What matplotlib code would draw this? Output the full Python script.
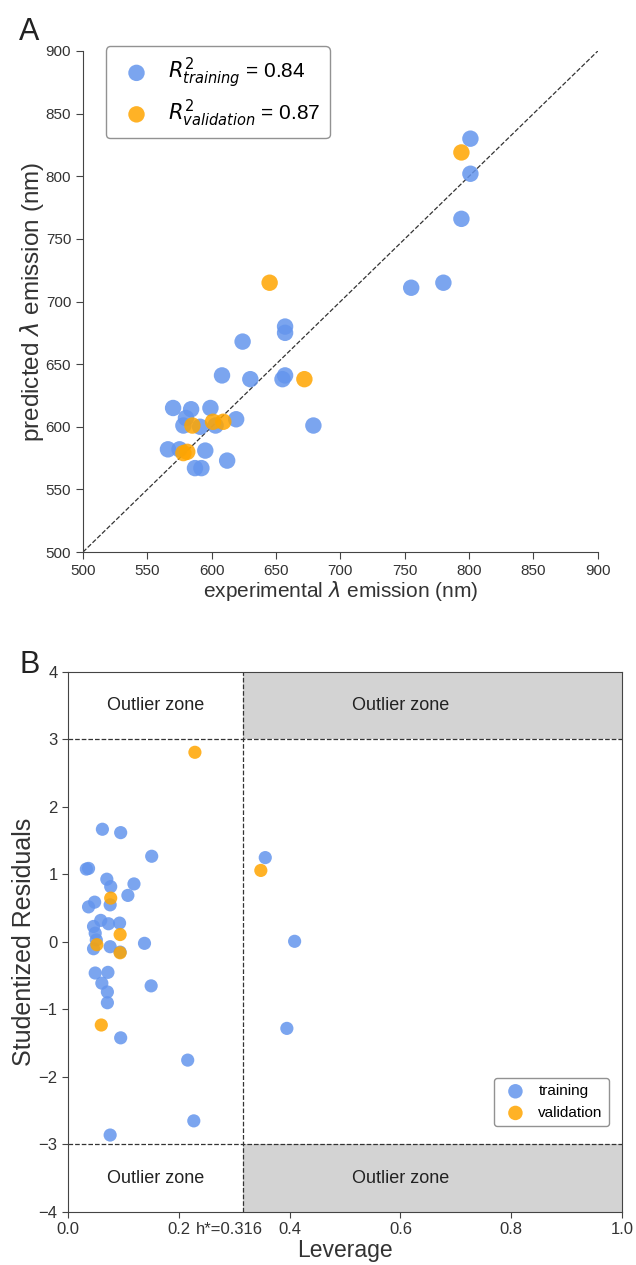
import numpy as np
import matplotlib
matplotlib.use("Agg")
import matplotlib.pyplot as plt

plt.rcParams['font.family'] = ['Liberation Sans', 'DejaVu Sans']

# Panel A data: experimental vs predicted emission (nm)
train_exp = [801, 801, 794, 755, 780, 657, 657, 624, 608, 630, 657, 655, 570, 584, 599,
             580, 578, 591, 603, 619, 679, 566, 575, 595, 612, 587, 592]
train_pred = [830, 802, 766, 711, 715, 680, 675, 668, 641, 638, 641, 638, 615, 614, 615,
              607, 601, 600, 601, 606, 601, 582, 582, 581, 573, 567, 567]
val_exp = [794, 645, 672, 585, 601, 609, 581, 578]
val_pred = [819, 715, 638, 601, 604, 604, 580, 579]

# Panel B data: leverage vs studentized residuals
train_lev = [0.062, 0.095, 0.151, 0.033, 0.037, 0.070, 0.077, 0.119, 0.108, 0.076, 0.037,
             0.048, 0.059, 0.073, 0.093, 0.046, 0.049, 0.051, 0.046, 0.076, 0.094, 0.138,
             0.049, 0.072, 0.061, 0.071, 0.071, 0.150, 0.095, 0.216, 0.356, 0.409, 0.395,
             0.076, 0.227]
train_res = [1.67, 1.62, 1.27, 1.08, 1.09, 0.93, 0.82, 0.86, 0.69, 0.55, 0.52,
             0.59, 0.32, 0.27, 0.28, 0.23, 0.13, 0.03, -0.10, -0.07, -0.15, -0.02,
             -0.46, -0.45, -0.61, -0.74, -0.90, -0.65, -1.42, -1.75, 1.25, 0.01, -1.28,
             -2.86, -2.65]
val_lev = [0.229, 0.077, 0.094, 0.052, 0.094, 0.060, 0.348]
val_res = [2.81, 0.65, 0.11, -0.04, -0.16, -1.23, 1.06]

h_star = 0.316
blue = '#6495ED'
orange = '#FFA500'

fig = plt.figure(figsize=(6.36, 12.65), dpi=100)

# ---- Panel A
ax = fig.add_axes([0.1305, 0.5636, 0.8095, 0.3961])
ax.plot([500, 900], [500, 900], ls='--', color='#333333', lw=0.9, zorder=1)
ax.scatter(train_exp, train_pred, s=140, color=blue, alpha=0.85, edgecolors='none',
           label=r'$R^2_{training}$ = 0.84', zorder=2)
ax.scatter(val_exp, val_pred, s=140, color=orange, alpha=0.85, edgecolors='none',
           label=r'$R^2_{validation}$ = 0.87', zorder=3)
ax.set_xlim(500, 900); ax.set_ylim(500, 900)
ax.set_xticks(range(500, 901, 50)); ax.set_yticks(range(500, 901, 50))
for s in ['top', 'right']: ax.spines[s].set_visible(False)
for s in ['left', 'bottom']: ax.spines[s].set_color('#444444')
ax.tick_params(labelsize=11, color='#444444', labelcolor='#333333', length=5)
ax.set_xlabel(r'experimental $\lambda$ emission (nm)', fontsize=15, color='#333333', labelpad=1)
ax.set_ylabel(r'predicted $\lambda$ emission (nm)', fontsize=17.5, color='#333333', labelpad=0)
leg = ax.legend(loc='upper left', bbox_to_anchor=(0.025, 1.03), fontsize=15, frameon=True,
                handletextpad=0.5, borderpad=0.45, labelspacing=0.35, markerscale=1.0)
leg.get_frame().set_edgecolor('#777777')
fig.text(0.03, 0.968, 'A', fontsize=22, color='#222222')

# ---- Panel B
bx = fig.add_axes([0.107, 0.0419, 0.871, 0.4269])
bx.set_xlim(0, 1); bx.set_ylim(-4, 4)
bx.fill_between([h_star, 1], 3, 4, color='#d3d3d3', lw=0, zorder=0)
bx.fill_between([h_star, 1], -4, -3, color='#d3d3d3', lw=0, zorder=0)
bx.axhline(3, ls='--', color='#333333', lw=0.9, zorder=1)
bx.axhline(-3, ls='--', color='#333333', lw=0.9, zorder=1)
bx.axvline(h_star, ls='--', color='#333333', lw=0.9, zorder=1)
bx.scatter(train_lev, train_res, s=90, color=blue, alpha=0.85, edgecolors='none',
           label='training', zorder=2)
bx.scatter(val_lev, val_res, s=90, color=orange, alpha=0.85, edgecolors='none',
           label='validation', zorder=3)
for yy in [3.5, -3.5]:
    bx.text(h_star / 2, yy, 'Outlier zone', ha='center', va='center', fontsize=13, color='#222222')
    bx.text(0.6, yy, 'Outlier zone', ha='center', va='center', fontsize=13, color='#222222')
bx.set_xticks([0.0, 0.2, 0.4, 0.6, 0.8, 1.0])
bx.set_yticks(range(-4, 5))
bx.tick_params(labelsize=12, color='#444444', labelcolor='#333333', length=4)
for s in bx.spines.values(): s.set_color('#444444')
bx.annotate('h*=0.316', xy=(0.231, 0), xycoords=bx.get_xaxis_transform(),
            xytext=(0, -7.5), textcoords='offset points', ha='left', va='top',
            fontsize=12, color='#333333')
bx.set_xlabel('Leverage', fontsize=16.5, color='#333333', labelpad=1)
bx.set_ylabel('Studentized Residuals', fontsize=18, color='#333333', labelpad=2)
lg = bx.legend(loc='lower right', bbox_to_anchor=(0.99, 0.145), fontsize=11, frameon=True,
               handletextpad=0.5, markerscale=1.1)
lg.get_frame().set_edgecolor('#777777')
fig.text(0.03, 0.468, 'B', fontsize=22, color='#222222')

fig.savefig('out.png', dpi=100)
